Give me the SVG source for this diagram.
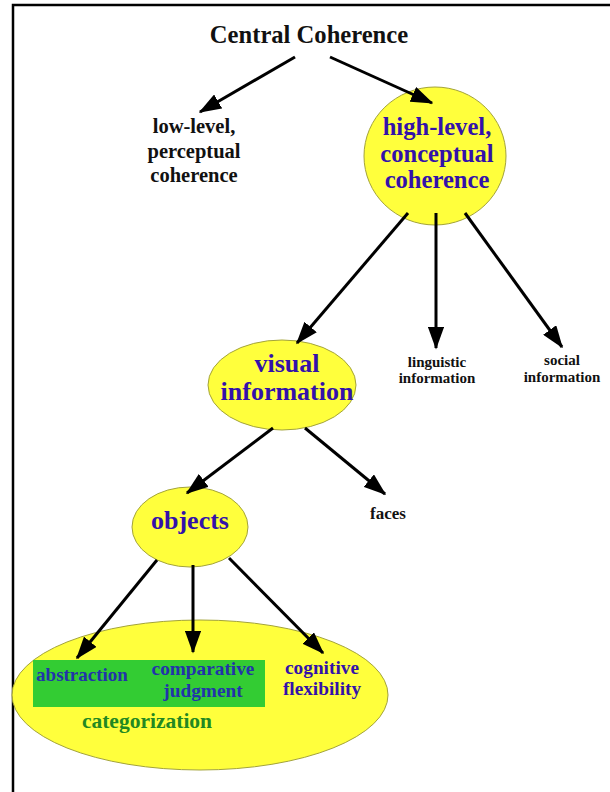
<svg xmlns="http://www.w3.org/2000/svg" width="610" height="792" viewBox="0 0 610 792">
<style>
text{font-family:"Liberation Serif","DejaVu Serif",serif;font-weight:bold;text-anchor:middle}
.blk{fill:#111}
.blu{fill:#3311aa}
.dblu{fill:#2233aa}
.grn{fill:#228822}
.ell{fill:#ffff3c;stroke:#a3a33a;stroke-width:1}
.con line{stroke:#000;stroke-width:3;marker-end:url(#ah)}
</style>
<defs>
<marker id="ah" markerWidth="7.5" markerHeight="5.4" refX="7" refY="2.7" orient="auto" markerUnits="strokeWidth">
<path d="M0,0 L7.5,2.7 L0,5.4 Z" fill="#000"/>
</marker>
</defs>
<rect width="610" height="792" fill="#fff"/>
<path d="M13,792 V5 H610" fill="none" stroke="#000" stroke-width="2.5"/>

<g id="central"><text class="blk" x="309" y="43" font-size="24.6">Central Coherence</text></g>
<g id="low"><text class="blk" font-size="20.5"><tspan x="194" y="133">low-level,</tspan><tspan x="194" y="158">perceptual</tspan><tspan x="194" y="182">coherence</tspan></text></g>
<g id="high"><ellipse class="ell" cx="435" cy="156" rx="71" ry="69"/><text class="blu" font-size="24.6"><tspan x="437" y="135">high-level,</tspan><tspan x="437" y="161.5">conceptual</tspan><tspan x="437" y="188">coherence</tspan></text></g>
<g id="visual"><ellipse class="ell" cx="282" cy="385" rx="74" ry="45"/><text class="blu" font-size="26"><tspan x="287" y="372">visual</tspan><tspan x="287" y="400">information</tspan></text></g>
<g id="linguistic"><text class="blk" font-size="15"><tspan x="437" y="367">linguistic</tspan><tspan x="437" y="383">information</tspan></text></g>
<g id="social"><text class="blk" font-size="15"><tspan x="562" y="365">social</tspan><tspan x="562" y="382">information</tspan></text></g>
<g id="faces"><text class="blk" x="388" y="519" font-size="17">faces</text></g>
<g id="objects"><ellipse class="ell" cx="190" cy="527" rx="58" ry="40"/><text class="blu" x="190" y="529" font-size="26">objects</text></g>
<g id="categorization"><ellipse class="ell" cx="200" cy="695" rx="188" ry="75"/><rect x="33" y="660" width="232" height="47" fill="#33cc33"/><text class="grn" x="147" y="728" font-size="21.5">categorization</text></g>
<g id="abstraction"><text class="dblu" x="82" y="681" font-size="19">abstraction</text></g>
<g id="comparative"><text class="dblu" font-size="19.3"><tspan x="203" y="675">comparative</tspan><tspan x="203" y="697">judgment</tspan></text></g>
<g id="cognitive"><text class="blu" font-size="19.3"><tspan x="322" y="674">cognitive</tspan><tspan x="322" y="695">flexibility</tspan></text></g>

<g id="connectors" class="con">
<line x1="295" y1="57" x2="200" y2="112"/>
<line x1="330" y1="57" x2="432" y2="103"/>
<line x1="408" y1="213" x2="297" y2="343"/>
<line x1="436" y1="213" x2="436" y2="348"/>
<line x1="465" y1="213" x2="562" y2="347"/>
<line x1="273" y1="428" x2="187" y2="493"/>
<line x1="305" y1="428" x2="385" y2="494"/>
<line x1="157" y1="560" x2="77" y2="658"/>
<line x1="193" y1="565" x2="193" y2="652"/>
<line x1="229" y1="558" x2="323" y2="653"/>
</g>
</svg>
